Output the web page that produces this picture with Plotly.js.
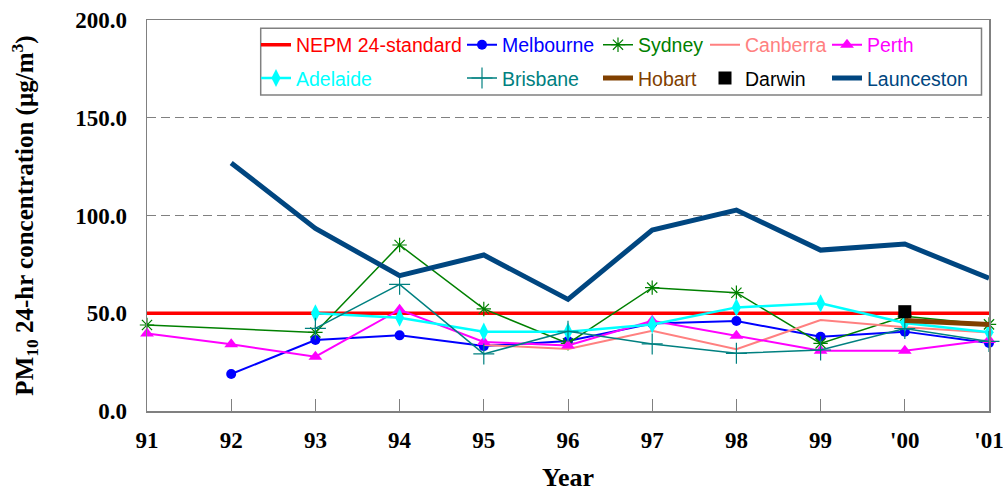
<!DOCTYPE html>
<html>
<head>
<meta charset="utf-8">
<script src="https://cdn.plot.ly/plotly-3.0.1.min.js"></script>
<style>html,body{margin:0;padding:0;background:#fff;}#chart{width:1003px;height:492px;}</style>
</head>
<body>
<div id="chart"></div>
<script>
var years = ['91','92','93','94','95','96','97','98','99',"'00","'01"];
var nepm       = [50, 50, 50, 50, 50, 50, 50, 50, 50, 50, 50];
var melbourne  = [null, 18.9, 36.3, 38.7, 33.2, 35.8, 44.8, 46.0, 38.0, 40.6, 34.8];
var sydney     = [44.0, null, 40.2, 84.9, 52.2, 34.6, 63.1, 60.5, 34.6, 48.5, 44.3];
var canberra   = [null, null, null, null, 33.8, 31.7, 41.1, 31.6, 46.5, 42.8, 40.1];
var perth      = [39.7, 34.1, 27.8, 51.8, 35.3, 33.5, 46.2, 38.5, 30.8, 30.8, 36.3];
var adelaide   = [null, null, 50.0, 47.7, 40.6, 40.6, 44.3, 53.0, 55.1, 45.0, 40.3];
var brisbane   = [null, null, 42.3, 64.8, 29.2, 40.8, 34.3, 29.5, 31.2, 42.2, 35.6];
var hobart     = [null, null, null, null, null, null, null, null, null, 46.3, 44.2];
var darwin     = [null, null, null, null, null, null, null, null, null, 50.8, null];
var launceston = [null, 126.9, 93.4, 69.2, 79.8, 57.1, 92.6, 102.8, 82.3, 85.4, 67.9];
var yTicks = [0, 50, 100, 150, 200];

var serif = 'Times New Roman, Liberation Serif, serif';
var sans = 'Arial, Liberation Sans, sans-serif';

var C = {
  nepm: '#FF0000', melbourne: '#0000FF', sydney: '#008000', canberra: '#FF8080',
  perth: '#FF00FF', adelaide: '#00FFFF', brisbane: '#008080', hobart: '#804000',
  darwin: '#000000', launceston: '#004680'
};

function tr(name, y, color, opts, legendId) {
  var t = {
    type: 'scatter', x: years, y: y, name: name,
    mode: opts.mode || 'lines',
    connectgaps: true, cliponaxis: false,
    line: {color: color, width: opts.width || 2},
    legend: legendId
  };
  if (opts.symbol) t.marker = {symbol: opts.symbol, size: opts.size, color: color, line: {color: color, width: opts.mlw || 0}};
  return t;
}

var data = [
  tr('NEPM 24-standard', nepm, C.nepm, {width: 3.5}, 'legend'),
  tr('Melbourne', melbourne, C.melbourne, {mode: 'lines+markers', width: 2, symbol: 'circle', size: 10}, 'legend2'),
  tr('Sydney', sydney, C.sydney, {mode: 'lines+markers', width: 1.5, symbol: 'asterisk-open', size: 12, mlw: 1.2}, 'legend3'),
  tr('Canberra', canberra, C.canberra, {width: 2}, 'legend4'),
  tr('Perth', perth, C.perth, {mode: 'lines+markers', width: 2, symbol: 'triangle-up', size: 12}, 'legend5'),
  tr('Adelaide', adelaide, C.adelaide, {mode: 'lines+markers', width: 2.5, symbol: 'diamond-tall', size: 13}, 'legend6'),
  tr('Brisbane', brisbane, C.brisbane, {mode: 'lines+markers', width: 1.5, symbol: 'cross-thin-open', size: 15, mlw: 1.2}, 'legend7'),
  tr('Hobart', hobart, C.hobart, {width: 5}, 'legend8'),
  tr('Darwin', darwin, C.darwin, {mode: 'markers', symbol: 'square', size: 13}, 'legend9'),
  tr('Launceston', launceston, C.launceston, {width: 5}, 'legend10')
];

function lg(xpx, row, color) {
  var W = 842, H = 391, L = 147, T = 20;
  var cy = row === 1 ? 45 : 78.3;
  return {
    x: (xpx - L) / W, xanchor: 'left',
    y: 1 - (cy - T) / H, yanchor: 'middle',
    bgcolor: 'rgba(0,0,0,0)', borderwidth: 0,
    font: {family: sans, size: 19.5, color: color},
    orientation: 'v'
  };
}

var layout = {
  width: 1003, height: 492,
  margin: {l: 147, r: 14, t: 20, b: 81},
  paper_bgcolor: '#ffffff', plot_bgcolor: '#ffffff',
  showlegend: true,
  hovermode: false,
  xaxis: {
    type: 'category', range: [0, 10], autorange: false,
    showline: true, linecolor: '#808080', linewidth: 1.5, mirror: true,
    ticks: 'inside', ticklen: 12, tickcolor: '#808080', tickwidth: 1,
    showgrid: false, zeroline: false,
    tickfont: {family: serif, size: 23, color: '#000', weight: 'bold'},
    ticklabelstandoff: 8,
    automargin: false,
    title: {text: 'Year', font: {family: serif, size: 26, color: '#000', weight: 'bold'}, standoff: 20}
  },
  yaxis: {
    range: [0, 200], autorange: false,
    tickvals: yTicks, tickformat: '.1f',
    showline: true, linecolor: '#808080', linewidth: 1.5, mirror: true,
    ticks: '', showgrid: true, gridcolor: '#808080', gridwidth: 1, griddash: '9px,5px',
    zeroline: false,
    tickfont: {family: serif, size: 23, color: '#000', weight: 'bold'},
    ticklabelstandoff: 14,
    automargin: false,
    title: {text: 'PM<sub>10</sub> 24-hr concentration (µg/m<sup>3</sup>)', font: {family: serif, size: 25, color: '#000', weight: 'bold'}, standoff: 34}
  },
  legend: lg(256, 1, C.nepm),
  legend2: lg(462, 1, C.melbourne),
  legend3: lg(598, 1, C.sydney),
  legend4: lg(705, 1, C.canberra),
  legend5: lg(827, 1, C.perth),
  legend6: lg(256, 2, C.adelaide),
  legend7: lg(462, 2, C.brisbane),
  legend8: lg(598, 2, C.hobart),
  legend9: lg(705, 2, C.darwin),
  legend10: lg(827, 2, C.launceston),
  shapes: [{
    type: 'rect', xref: 'paper', yref: 'paper',
    x0: (260.7 - 147) / 842, x1: (981.5 - 147) / 842,
    y0: 1 - (95 - 20) / 391, y1: 1 - (28.3 - 20) / 391,
    line: {color: '#808080', width: 1.5}, fillcolor: '#ffffff', layer: 'below'
  }]
};

Plotly.newPlot('chart', data, layout, {staticPlot: true, displayModeBar: false});
</script>
</body>
</html>
